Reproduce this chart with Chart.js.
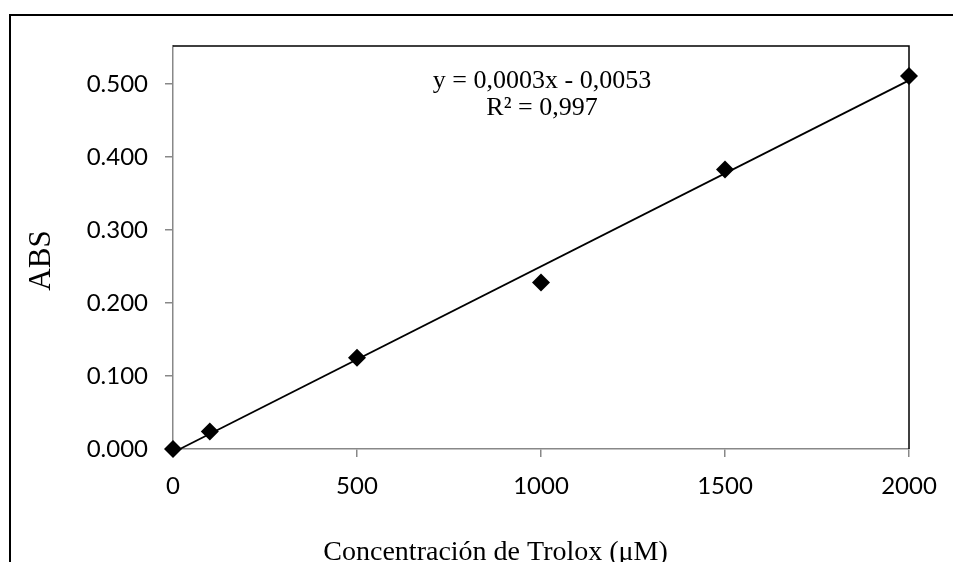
<!DOCTYPE html>
<html>
<head>
<meta charset="utf-8">
<script src="https://cdn.jsdelivr.net/npm/chart.js@4.4.1/dist/chart.umd.min.js"></script>
<style>
html,body{margin:0;padding:0;background:#fff;}
#wrap{width:953px;height:562px;position:relative;}
</style>
</head>
<body>
<div id="wrap"><canvas id="c" width="953" height="562"></canvas></div>
<script>
// Data
const concentrations = [0, 100, 500, 1000, 1500, 2000];      // Trolox (µM)
const absorbances    = [0.000, 0.024, 0.125, 0.228, 0.383, 0.511];
const xTickValues = [0, 500, 1000, 1500, 2000];
const yTickValues = [0.0, 0.1, 0.2, 0.3, 0.4, 0.5];
const equationLines = ['y = 0,0003x - 0,0053', 'R² = 0,997'];
const xTitle = 'Concentración de Trolox (μM)';
const yTitle = 'ABS';

// Linear least-squares trendline from the data
function fit(xs, ys){
  const n = xs.length;
  const mx = xs.reduce((a,b)=>a+b,0)/n, my = ys.reduce((a,b)=>a+b,0)/n;
  let sxy=0,sxx=0;
  for(let i=0;i<n;i++){sxy+=(xs[i]-mx)*(ys[i]-my);sxx+=(xs[i]-mx)**2;}
  const m = sxy/sxx; return {m, b: my - m*mx};
}
const tr = fit(concentrations, absorbances);
const xFirst = concentrations[0], xLast = concentrations[concentrations.length-1];
const trendData = [{x:xFirst, y: tr.m*xFirst+tr.b}, {x:xLast, y: tr.m*xLast+tr.b}];
const pointData = concentrations.map((x,i)=>({x, y: absorbances[i]}));

const decor = {
  id:'decor',
  afterDraw(chart){
    const ctx = chart.ctx, a = chart.chartArea;
    ctx.save();
    // plot area border (top + right)
    ctx.strokeStyle = '#000'; ctx.lineWidth = 1.5;
    ctx.beginPath();
    ctx.moveTo(a.left, a.top); ctx.lineTo(a.right, a.top); ctx.lineTo(a.right, a.bottom);
    ctx.stroke();
    // outer frame (top + left)
    ctx.lineWidth = 2;
    ctx.beginPath();
    ctx.moveTo(10, chart.height); ctx.lineTo(10, 15); ctx.lineTo(chart.width, 15);
    ctx.stroke();
    // axis titles
    ctx.fillStyle = '#000';
    ctx.font = '28px "Liberation Serif", "Times New Roman", serif';
    ctx.textAlign = 'center'; ctx.textBaseline = 'alphabetic';
    ctx.fillText(xTitle, chart.width*0.52, 560);
    ctx.save();
    ctx.font = '31px "Liberation Serif", "Times New Roman", serif';
    ctx.translate(50, (a.top+a.bottom)/2 + 13);
    ctx.rotate(-Math.PI/2);
    ctx.textBaseline = 'alphabetic';
    ctx.fillText(yTitle, 0, 0);
    ctx.restore();
    // equation
    ctx.font = '26px "Liberation Serif", "Times New Roman", serif';
    ctx.textBaseline = 'middle';
    const cx = (a.left+a.right)/2 + 1;
    ctx.fillText(equationLines[0], cx, 81);
    ctx.fillText(equationLines[1], cx, 108);
    ctx.restore();
  }
};

new Chart(document.getElementById('c'), {
  type:'scatter',
  data:{
    datasets:[
      {type:'line', data: trendData, borderColor:'#000', borderWidth:1.8, pointRadius:0, fill:false, clip:false, order:2},
      {data: pointData, pointStyle:'rectRot', pointRadius:9, pointHoverRadius:9,
       backgroundColor:'#000', borderColor:'#000', borderWidth:0, clip:false, order:1}
    ]
  },
  options:{
    responsive:false, animation:false,
    layout:{padding:{top:46, right:44, left:0, bottom:0}},
    plugins:{legend:{display:false}, tooltip:{enabled:false}},
    scales:{
      x:{
        type:'linear', min:0, max:2000,
        afterFit(s){ s.height = 113; },
        afterBuildTicks(s){ s.ticks = xTickValues.map(v=>({value:v})); },
        grid:{drawOnChartArea:false, drawTicks:true, tickLength:8, color:'#888', lineWidth:1.5},
        border:{color:'#888', width:1.5},
        ticks:{padding:15, color:'#000', font:{family:'Lato', size:24}, maxRotation:0, callback:v=>String(v)}
      },
      y:{
        type:'linear', min:0, max:0.552,
        afterFit(s){ s.width = 173; },
        afterBuildTicks(s){ s.ticks = yTickValues.map(v=>({value:v})); },
        grid:{drawOnChartArea:false, drawTicks:true, tickLength:8, color:'#888', lineWidth:1.5},
        border:{color:'#888', width:1.5},
        ticks:{padding:17, color:'#000', font:{family:'Lato', size:24}, callback:v=>Number(v).toFixed(3)}
      }
    }
  },
  plugins:[decor]
});
</script>
</body>
</html>
